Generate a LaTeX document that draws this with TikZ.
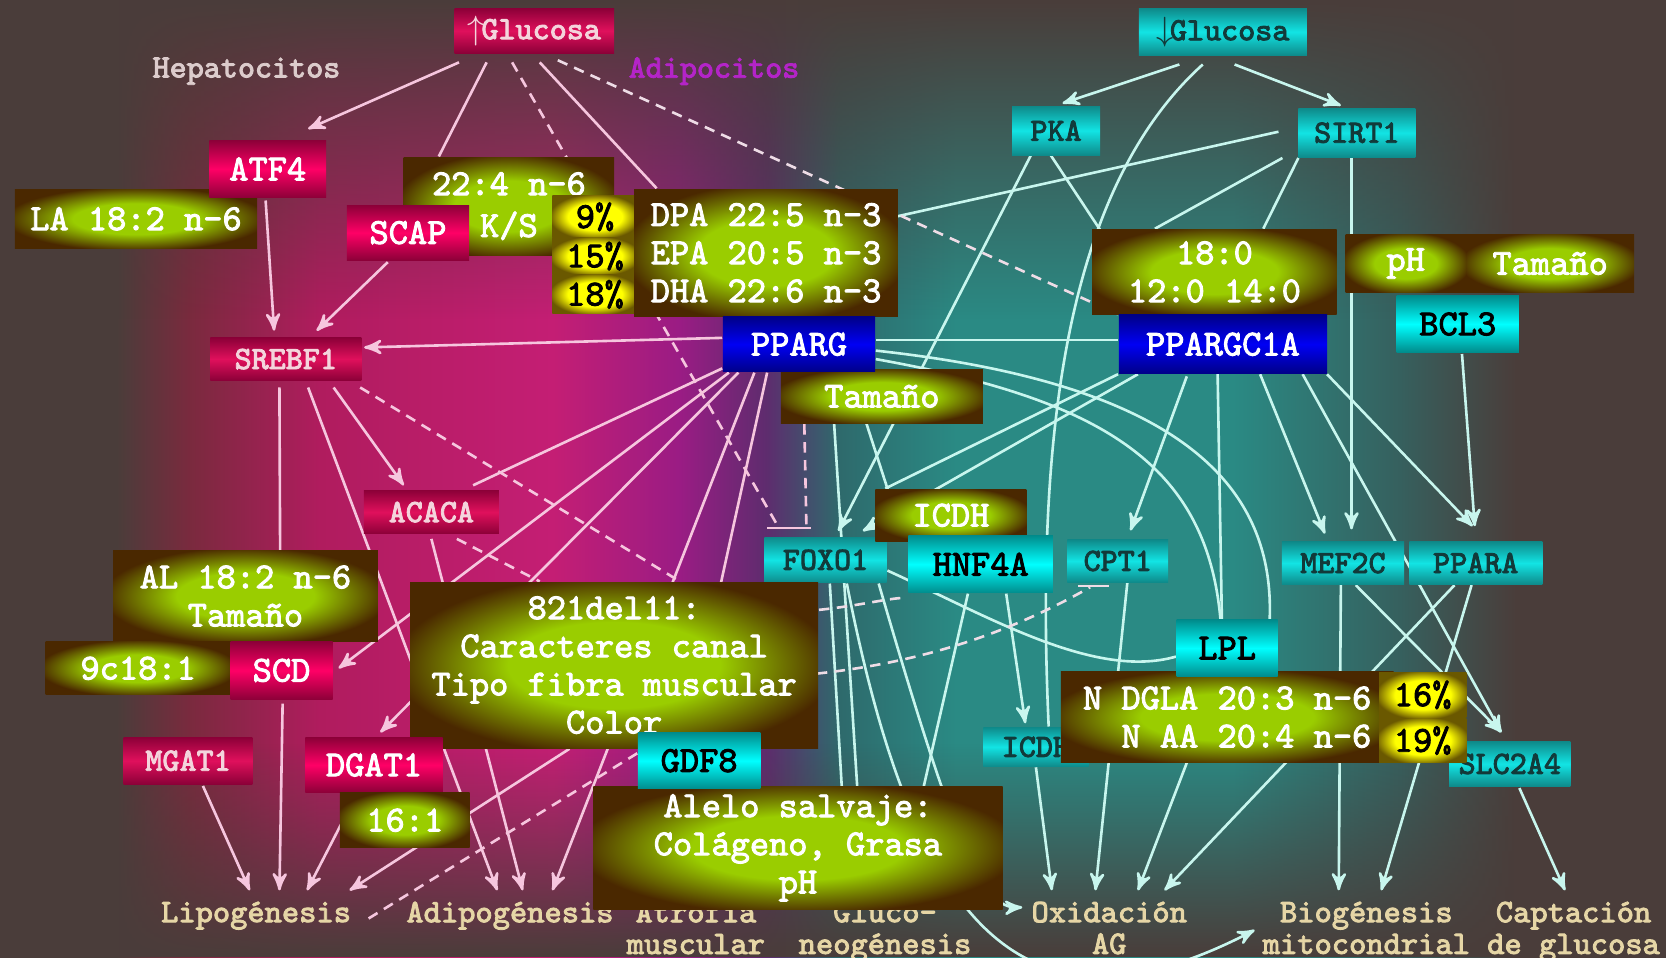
\documentclass[tikz,border=0pt]{standalone}
\usepackage{fontspec}
\setmonofont{Latin Modern Mono}[AutoFakeBold=2.5]
\usetikzlibrary{arrows,fadings}

\definecolor{bgdark}{HTML}{4A3D3A}
\definecolor{bgred}{HTML}{7A2A3E}
\definecolor{bgcrim}{HTML}{B01C5E}
\definecolor{bgmag}{HTML}{C41E74}
\definecolor{bgpurp}{HTML}{9A1C84}
\definecolor{bgvio}{HTML}{5E2C6E}
\definecolor{bgteald}{HTML}{2E6A6C}
\definecolor{bgteal}{HTML}{2A8A84}
\definecolor{bgtealg}{HTML}{36605E}
\definecolor{pinkdark}{HTML}{8C0038}
\definecolor{pinkmid}{HTML}{FF0066}
\definecolor{pinkfade}{HTML}{E0105C}
\definecolor{pinktext}{HTML}{F4D4DC}
\definecolor{cyandark}{HTML}{008C8C}
\definecolor{cyanmid}{HTML}{00FFFF}
\definecolor{tealdark}{HTML}{0E8A8A}
\definecolor{tealmid}{HTML}{12E4E4}
\definecolor{tealtext}{HTML}{123A3A}
\definecolor{bluedark}{HTML}{000088}
\definecolor{bluemid}{HTML}{0000F4}
\definecolor{ogreen}{HTML}{9ACD00}
\definecolor{obrown}{HTML}{4A2800}
\definecolor{ybright}{HTML}{FFFF00}
\definecolor{ydark}{HTML}{6A5800}
\definecolor{pinkline}{HTML}{F6C6DE}
\definecolor{tealline}{HTML}{C8F6EE}
\definecolor{mixline}{HTML}{EEDCE6}
\definecolor{labeltan}{HTML}{E6D6A6}
\definecolor{hepacol}{HTML}{DCCCCC}
\definecolor{adipocol}{HTML}{B424C8}

\pgfdeclarehorizontalshading{bgsh}{100bp}{color(0bp)=(bgdark); color(28.5bp)=(bgdark); color(30.7bp)=(bgred); color(34.6bp)=(bgcrim); color(41.6bp)=(bgmag); color(45.4bp)=(bgpurp); color(48bp)=(bgvio); color(50.2bp)=(bgteald); color(53.7bp)=(bgteal); color(62bp)=(bgteal); color(67bp)=(bgtealg); color(70.5bp)=(bgdark); color(100bp)=(bgdark)}
\pgfdeclareradialshading{olivesh}{\pgfpoint{0bp}{0bp}}{color(0bp)=(ogreen); color(13bp)=(ogreen); color(27bp)=(obrown); color(50bp)=(obrown)}
\pgfdeclareradialshading{yelsh}{\pgfpoint{0bp}{0bp}}{color(0bp)=(ybright); color(16bp)=(ybright); color(27bp)=(ydark); color(50bp)=(ydark)}
\tikzfading[name=fadetop, top color=transparent!0, bottom color=transparent!100]
\tikzfading[name=fadebot, top color=transparent!100, bottom color=transparent!0]

\pgfdeclarelayer{back}
\pgfdeclarelayer{edges}
\pgfsetlayers{back,edges,main}

\tikzstyle{box} = [rectangle, inner sep=0pt, align=center, font=\ttfamily\bfseries\fontsize{9.8}{10.2}\selectfont]
\tikzstyle{small} = [font=\ttfamily\bfseries\fontsize{8.7}{9.5}\selectfont]
\tikzstyle{pinkbox} = [box, top color=pinkdark, bottom color=pinkdark, middle color=pinkmid, text=white]
\tikzstyle{pinkdim} = [box, small, top color=pinkdark, bottom color=pinkdark, middle color=pinkfade, text=pinktext]
\tikzstyle{cyanbox} = [box, top color=cyandark, bottom color=cyandark, middle color=cyanmid, text=black]
\tikzstyle{tealbox} = [box, small, top color=tealdark, bottom color=tealdark, middle color=tealmid, text=tealtext]
\tikzstyle{bluebox} = [box, top color=bluedark, bottom color=bluedark, middle color=bluemid, text=white]
\tikzstyle{olivebox} = [box, shade, shading=olivesh, text=white]
\tikzstyle{yelbox} = [box, shade, shading=yelsh, text=black]
\tikzstyle{outcome} = [inner sep=0pt, anchor=north, align=center, text=labeltan, font=\ttfamily\bfseries\fontsize{8.8}{8.5}\selectfont]
\tikzstyle{pline} = [color=pinkline, line width=0.7pt]
\tikzstyle{tline} = [color=tealline, line width=0.7pt]
\tikzstyle{mline} = [color=mixline, line width=0.7pt]
\tikzstyle{brk} = [dash pattern=on 2.8pt off 2pt]

\begin{document}
\begin{tikzpicture}[>=stealth', x=0.01cm, y=-0.01cm]

\useasboundingbox (0,0) rectangle (1568,901);
\begin{pgfonlayer}{back}
\shade[shading=bgsh] (0,0) rectangle (1568,901);
\fill[bgdark, path fading=fadetop] (0,0) rectangle (1568,300);
\fill[bgdark, path fading=fadebot] (0,700) rectangle (1568,901);
\end{pgfonlayer}

% high glucose side
\node[pinkdim, minimum width=1.50cm, minimum height=0.42cm] (glucup) at (503,29) {$\uparrow$\kern-1ptGlucosa};
\node[small, text=hepacol] (hepa) at (232,67) {Hepatocitos};
\node[small, text=adipocol] (adipoc) at (672,67) {Adipocitos};
\node[olivebox, minimum width=2.28cm, minimum height=0.56cm] (la) at (128,206) {LA 18:2 n-6};
\node[pinkbox, minimum width=1.10cm, minimum height=0.54cm] (atf) at (252,159) {ATF4};
\node[olivebox, minimum width=1.98cm, minimum height=0.92cm] (ks) at (479,194) {22:4 n-6\\[1pt]K/S};
\node[pinkbox, minimum width=1.15cm, minimum height=0.52cm] (scap) at (384,219) {SCAP};
\node[yelbox, minimum width=0.80cm, minimum height=0.40cm] (y9) at (560,204) {9\%};
\node[yelbox, minimum width=0.80cm, minimum height=0.35cm] (y15) at (560,241) {15\%};
\node[yelbox, minimum width=0.80cm, minimum height=0.37cm] (y18) at (560,277) {18\%};
\node[olivebox, minimum width=2.48cm, minimum height=1.20cm] (dpa) at (721,238) {DPA 22:5 n-3\\EPA 20:5 n-3\\DHA 22:6 n-3};
\node[olivebox, minimum width=1.90cm, minimum height=0.51cm] (tam1) at (830,373) {Tamaño};
\node[bluebox, minimum width=1.43cm, minimum height=0.52cm] (pparg) at (752,324) {PPARG};

% low glucose side
\node[tealbox, minimum width=1.58cm, minimum height=0.44cm] (glucdn) at (1151,30) {$\downarrow$\kern-1ptGlucosa};
\node[tealbox, minimum width=0.83cm, minimum height=0.46cm] (pka) at (994,123) {PKA};
\node[tealbox, minimum width=1.10cm, minimum height=0.46cm] (sirt) at (1277,125) {SIRT1};
\node[olivebox, minimum width=2.30cm, minimum height=0.80cm] (sat) at (1143,256) {18:0\\12:0 14:0};
\node[bluebox, minimum width=1.96cm, minimum height=0.55cm] (pgc) at (1151,324) {PPARGC1A};
\node[olivebox, minimum width=1.13cm, minimum height=0.55cm] (ph) at (1323,248) {pH};
\node[olivebox, minimum width=1.58cm, minimum height=0.55cm] (tam2) at (1459,248) {Tamaño};
\node[cyanbox, minimum width=1.15cm, minimum height=0.53cm] (bcl) at (1372,305) {BCL3};

% middle row
\node[pinkdim, minimum width=1.42cm, minimum height=0.40cm] (srebf) at (269,338) {SREBF1};
\node[pinkdim, minimum width=1.27cm, minimum height=0.41cm] (acaca) at (406,482) {ACACA};
\node[tealbox, minimum width=1.15cm, minimum height=0.43cm] (foxo) at (777,527) {FOXO1};
\node[olivebox, minimum width=1.42cm, minimum height=0.49cm] (icdh) at (895,485) {ICDH};
\node[cyanbox, minimum width=1.36cm, minimum height=0.54cm] (hnf) at (923,531) {HNF4A};
\node[tealbox, minimum width=0.95cm, minimum height=0.40cm] (cpt) at (1052,528) {CPT1};
\node[tealbox, minimum width=1.15cm, minimum height=0.40cm] (mef) at (1264,530) {MEF2C};
\node[tealbox, minimum width=1.25cm, minimum height=0.40cm] (ppara) at (1389,530) {PPARA};

% lower left
\node[olivebox, minimum width=2.49cm, minimum height=0.85cm] (al) at (231,561) {AL 18:2 n-6\\Tamaño};
\node[olivebox, minimum width=1.74cm, minimum height=0.50cm] (c181) at (130,629) {9c18:1};
\node[pinkbox, minimum width=0.96cm, minimum height=0.55cm] (scd) at (265,631) {SCD};
\node[olivebox, minimum width=3.84cm, minimum height=1.56cm] (del) at (578,626) {821del11:\\Caracteres canal\\Tipo fibra muscular\\Color};
\node[pinkdim, minimum width=1.21cm, minimum height=0.44cm] (mgat) at (177,716) {MGAT1};
\node[pinkbox, minimum width=1.29cm, minimum height=0.52cm] (dgat) at (352,720) {DGAT1};
\node[olivebox, minimum width=1.22cm, minimum height=0.52cm] (c161) at (381,772) {16:1};

% lower right
\node[tealbox, minimum width=0.99cm, minimum height=0.37cm] (icdt) at (975,703) {ICDH};
\node[tealbox, minimum width=1.14cm, minimum height=0.42cm] (slc) at (1421,719) {SLC2A4};
\node[olivebox, minimum width=3.13cm, minimum height=0.85cm, align=right] (dgla) at (1155,675) {N DGLA 20:3 n-6\\N AA 20:4 n-6};
\node[cyanbox, minimum width=0.95cm, minimum height=0.53cm] (lpl) at (1155,610) {LPL};
\node[yelbox, minimum width=0.82cm, minimum height=0.43cm] (p16) at (1339,654) {16\%};
\node[yelbox, minimum width=0.82cm, minimum height=0.42cm] (p19) at (1339,697) {19\%};

% outcomes
\node[outcome] (lipo) at (241,848) {Lipogénesis};
\node[outcome] (adipog) at (480,848) {Adipogénesis};
\node[outcome] (atro) at (655,848) {Atrofia\\muscular};
\node[outcome] (gluco) at (833,848) {Gluco-\\neogénesis};
\node[outcome] (oxid) at (1044,848) {Oxidación\\AG};
\node[outcome] (bio) at (1286,848) {Biogénesis\\mitocondrial};
\node[outcome] (capt) at (1481,848) {Captación\\de glucosa};

\node[olivebox, minimum width=3.85cm, minimum height=1.16cm] (alelo) at (751,798) {Alelo salvaje:\\Colágeno, Grasa\\pH};
\node[cyanbox, minimum width=1.15cm, minimum height=0.53cm] (gdf) at (658,716) {GDF8};

\coordinate (fbar0) at ([shift={(-55,-8)}]foxo.north);
\coordinate (fbar1) at ([shift={(-44,-8)}]foxo.north);
\coordinate (fbar2) at ([shift={(-18,-8)}]foxo.north);
\coordinate (fbar3) at ([shift={(-14,-8)}]foxo.north);
\coordinate (cbarL) at ([shift={(-37,3)}]cpt.south);
\coordinate (cbarm) at ([shift={(-26,4)}]cpt.south);
\coordinate (cbarR) at ([shift={(-8,3)}]cpt.south);

\begin{pgfonlayer}{edges}
  \path[pline,->]
    ([shift={(-71,8)}]glucup.south) edge ([shift={(38,-10)}]atf.north)
    ([shift={(-45,8)}]glucup.south) edge[-] ([shift={(-66,0)}]ks.north)
    ([shift={(5,8)}]glucup.south) edge[-] ([shift={(-103,0)}]dpa.north)
    ([shift={(-21,8)}]glucup.south) edge[-,brk] (fbar1)
    ([shift={(-2,2)}]atf.south) edge ([shift={(-11,-6)}]srebf.north)
    ([shift={(-19,1)}]scap.south) edge ([shift={(29,-6)}]srebf.north)
    ([shift={(0,-6)}]pparg.west) edge ([shift={(2,-11)}]srebf.east)
    ([shift={(-6,6)}]srebf.south) edge[-] ([shift={(-1,0)}]scd.north)
    ([shift={(21,6)}]srebf.south) edge ([shift={(-12,-10)}]adipog.north)
    ([shift={(45,6)}]srebf.south) edge ([shift={(-26,-4)}]acaca.north)
    ([shift={(70,6)}]srebf.south) edge[-,brk] ([shift={(62,0)}]del.north)
    ([shift={(24,4)}]acaca.south) edge[-,brk] ([shift={(-70,0)}]del.north)
    ([shift={(0,4)}]acaca.south) edge ([shift={(12,-10)}]adipog.north)
    ([shift={(1,3)}]scd.south) edge ([shift={(22,-10)}]lipo.north)
    ([shift={(14,1)}]mgat.south) edge ([shift={(-6,-10)}]lipo.north)
    ([shift={(-16,0)}]dgat.south) edge ([shift={(48,-10)}]lipo.north)
    ([shift={(-42,0)}]del.south) edge ([shift={(88,-10)}]lipo.north)
    ([shift={(0,-4)}]pparg.south west) edge[-] ([shift={(-25,-4)}]acaca.north east)
    ([shift={(-66,0)}]pparg.south) edge ([shift={(5,-2)}]scd.east)
    ([shift={(-57,0)}]pparg.south) edge ([shift={(6,-4)}]dgat.north)
    ([shift={(-42,0)}]pparg.south) edge ([shift={(40,-10)}]adipog.north)
    ([shift={(-30,0)}]pparg.south) edge ([shift={(-40,-10)}]atro.north)
    ([shift={(-73,0)}]tam1.south) edge[-,brk] (fbar2)
    (fbar0) edge[-] (fbar3)
    ([shift={(0,-7)}]gdf.west) edge[-,brk] ([shift={(12,5)}]lipo.east);

  \path[tline,->]
    ([shift={(-41,8)}]glucdn.south) edge ([shift={(6,-2)}]pka.north)
    ([shift={(11,8)}]glucdn.south) edge ([shift={(-15,-2)}]sirt.north)
    ([shift={(-23,-2)}]pka.south) edge ([shift={(12,-5)}]foxo.north)
    ([shift={(-6,-2)}]pka.south) edge[-] ([shift={(-63,0)}]pgc.north)
    ([shift={(-18,-1)}]sirt.west) edge[-] ([shift={(-3,-34)}]dpa.east)
    ([shift={(-70,0)}]sirt.south) edge[-] ([shift={(-56,0)}]sat.north)
    ([shift={(-55,0)}]sirt.south) edge[-] ([shift={(46,0)}]sat.north)
    ([shift={(-5,0)}]sirt.south) edge ([shift={(8,-11)}]mef.north)
    ([shift={(35,0)}]pgc.south) edge ([shift={(-17,-7)}]mef.north)
    ([shift={(75,0)}]pgc.south) edge ([shift={(-8,-8)}]slc.north)
    ([shift={(98,0)}]pgc.south) edge ([shift={(-3,-14)}]ppara.north)
    ([shift={(4,1)}]bcl.south) edge ([shift={(-1,-14)}]ppara.north)
    ([shift={(-34,2)}]pgc.south) edge ([shift={(12,-8)}]cpt.north)
    ([shift={(-5,0)}]pgc.south) edge[-] ([shift={(-5,0)}]lpl.north)
    ([shift={(-80,0)}]pgc.south) edge ([shift={(35,-5)}]foxo.north)
    (pgc.south west) edge[-] ([shift={(10,0)}]icdh.north west)
    ([shift={(0,-4)}]pparg.east) edge[-] ([shift={(0,-4)}]pgc.west)
    ([shift={(30,0)}]pparg.south) edge ([shift={(-20,-10)}]gluco.north)
    ([shift={(48,0)}]pparg.south) edge[-] ([shift={(-5,0)}]hnf.north west)
    ([shift={(4,0)}]foxo.south) edge ([shift={(-35,-10)}]gluco.north)
    ([shift={(-12,0)}]hnf.south) edge ([shift={(14,-10)}]gluco.north)
    ([shift={(24,0)}]hnf.south) edge ([shift={(-10,-3)}]icdt.north)
    (icdt.south) edge ([shift={(-54,-10)}]oxid.north)
    ([shift={(9,0)}]cpt.south) edge ([shift={(-13,-10)}]oxid.north)
    ([shift={(-20,0)}]ppara.south) edge ([shift={(52,-10)}]oxid.north)
    ([shift={(-2,0)}]mef.south) edge ([shift={(-26,-10)}]bio.north)
    ([shift={(-4,0)}]ppara.south) edge ([shift={(14,-10)}]bio.north)
    ([shift={(12,0)}]mef.south) edge ([shift={(-8,-8)}]slc.north)
    ([shift={(9,1)}]slc.south) edge ([shift={(-8,-10)}]capt.north);

  \draw[tline] ([shift={(-19,8)}]glucdn.south) .. controls (1000,180) and (975,420) .. ([shift={(12,0)}]icdt.north);
  \draw[tline] ([shift={(0,6)}]pparg.east) .. controls (1100,360) and (1200,450) .. ([shift={(40,0)}]lpl.north);
  \draw[tline,->] ([shift={(0,14)}]pparg.east) .. controls (1060,380) and (1155,450) .. ([shift={(-5,0)}]dgla.north) -- ([shift={(27,-10)}]oxid.north);
  \draw[tline] ([shift={(0,10)}]foxo.east) .. controls (930,580) and (1030,640) .. ([shift={(0,8)}]lpl.west);
  \draw[tline,->] ([shift={(50,0)}]foxo.south) .. controls (900,800) and (925,855) .. ([shift={(-8,6)}]oxid.north west);
  \draw[tline,->] ([shift={(20,0)}]foxo.south) .. controls (860,870) and (960,990) .. ([shift={(-7,2)}]bio.west);

  \draw[mline,brk] ([shift={(22,6)}]glucup.south) -- (pgc.north west);
  \draw[mline,brk] ([shift={(0,-52)}]del.east) .. controls (810,570) and (840,562) .. ([shift={(0,4)}]hnf.south west);
  \draw[mline,brk] ([shift={(-2,8)}]del.east) .. controls (880,622) and (960,590) .. (cbarm);
  \draw[mline] (cbarL) -- (cbarR);
\end{pgfonlayer}

\end{tikzpicture}
\end{document}
